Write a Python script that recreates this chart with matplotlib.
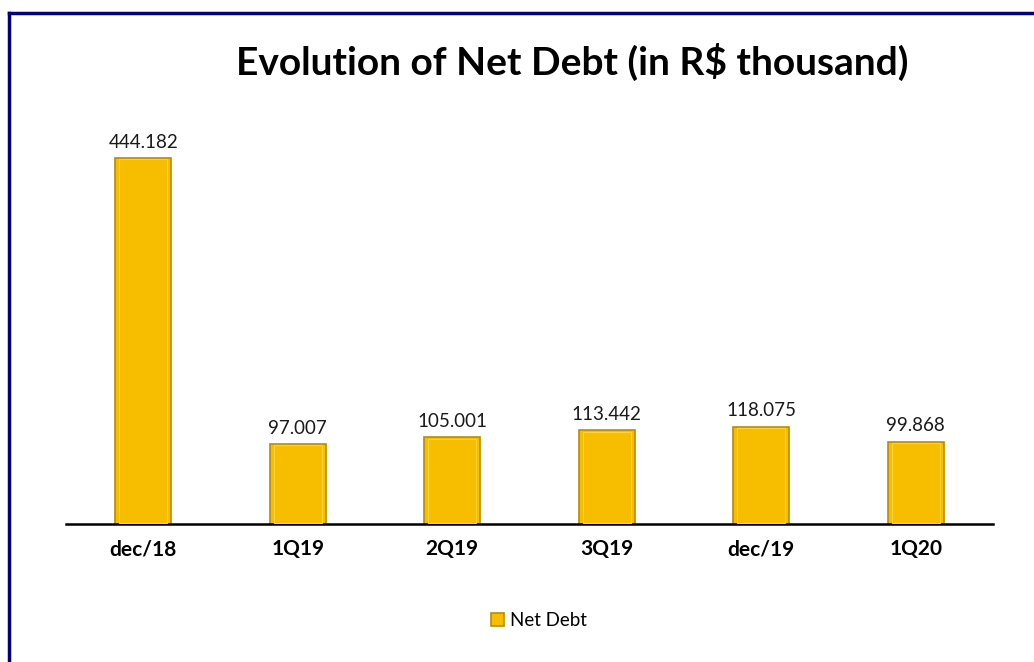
import matplotlib.pyplot as plt
from matplotlib.lines import Line2D

periods = ['dec/18', '1Q19', '2Q19', '3Q19', 'dec/19', '1Q20']
net_debt = [444.182, 97.007, 105.001, 113.442, 118.075, 99.868]
value_labels = ['444.182', '97.007', '105.001', '113.442', '118.075', '99.868']

plt.rcParams['font.family'] = ['Lato', 'DejaVu Sans']

fig = plt.figure(figsize=(10.34, 6.62), dpi=100)
ax = fig.add_axes([0.0638, 0.2085, 0.8965, 0.6224])

x = list(range(len(periods)))
bars = ax.bar(x, net_debt, width=0.36, color='#F7BE00', edgecolor='#B98C00',
              linewidth=1.2, label='Net Debt', zorder=2)
# light inner rim to mimic the bevel
ax.bar(x, [v - 3 for v in net_debt], bottom=1.5, width=0.31, color='none',
       edgecolor='#FFD23A', linewidth=0.8, zorder=3)

for xi, v, lab in zip(x, net_debt, value_labels):
    ax.text(xi, v + 9, lab, ha='center', va='bottom', fontsize=13.5, color='#1a1a1a')

ax.set_xlim(-0.5, len(periods) - 0.5)
ax.set_ylim(0, 500)
ax.set_xticks(x)
ax.set_xticklabels(periods, fontsize=15, fontweight='bold')
ax.tick_params(axis='x', length=0, pad=11)
ax.set_yticks([])
for s in ['top', 'right', 'left']:
    ax.spines[s].set_visible(False)
ax.spines['bottom'].set_linewidth(1.8)
ax.spines['bottom'].set_color('black')

fig.text(0.553, 0.906, 'Evolution of Net Debt (in R$ thousand)', ha='center', va='center',
         fontsize=28, fontweight='bold')

fig.legend(handles=[bars], labels=['Net Debt'], loc='center', bbox_to_anchor=(0.521, 0.062),
           frameon=False, fontsize=13.5, handlelength=0.7, handleheight=0.7, handletextpad=0.3)

# navy frame (top and left edges)
fig.add_artist(Line2D([0.0087, 1.0], [0.9804, 0.9804], color='#000080', linewidth=2.5,
                      transform=fig.transFigure))
fig.add_artist(Line2D([0.0087, 0.0087], [0.0, 0.9804], color='#000080', linewidth=2.5,
                      transform=fig.transFigure))

fig.savefig('out.png', dpi=100)
